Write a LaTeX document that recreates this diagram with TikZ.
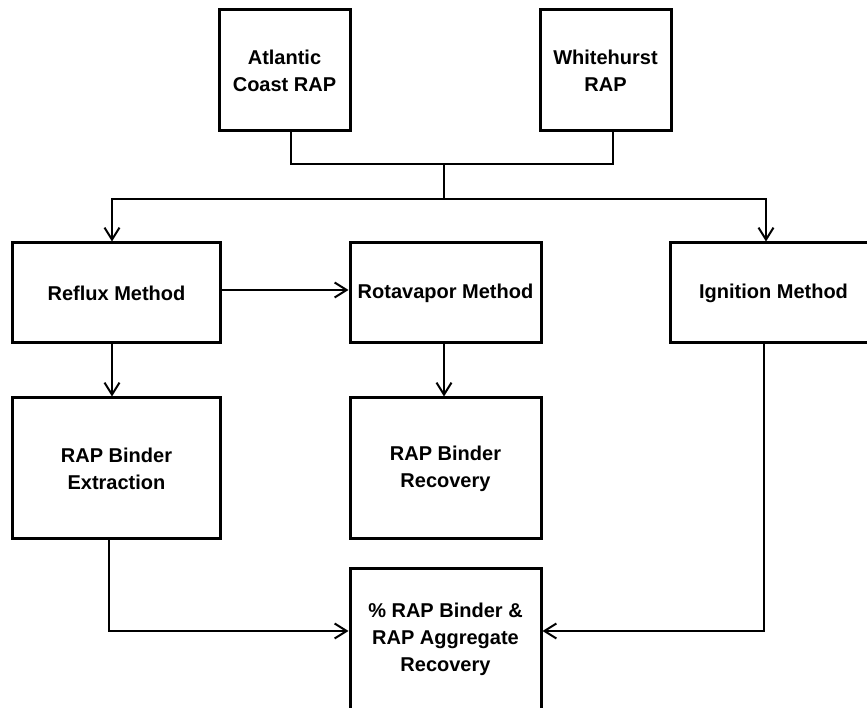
\documentclass[tikz,border=0pt]{standalone}
\usepackage{fontspec}
\setmainfont{Liberation Sans}
\usetikzlibrary{arrows.meta}
\tikzset{
  box/.style={draw, line width=3bp, align=center, inner sep=0pt,
    font=\bfseries\fontsize{20bp}{27bp}\selectfont},
  link/.style={line width=2bp},
  arr/.style={link, -{Straight Barb[length=12bp,width=15bp,line width=2bp]}}
}
\begin{document}
\begin{tikzpicture}[x=1bp,y=1bp]
\useasboundingbox (0,0) rectangle (867,708);
% sources
\node[box, minimum width=131bp, minimum height=121bp] (atl) at (284.5,637.5) {Atlantic\\Coast RAP};
\node[box, minimum width=131bp, minimum height=121bp] (white) at (605.5,637.5) {Whitehurst\\RAP};
% methods
\node[box, minimum width=207bp, minimum height=100bp] (reflux) at (116.5,415) {Reflux Method};
\node[box, minimum width=191bp, minimum height=100bp] (rota) at (445.5,415) {Rotavapor Method};
\node[box, minimum width=207bp, minimum height=100bp] (ign) at (773.5,415) {Ignition Method};
% results
\node[box, minimum width=207bp, minimum height=141bp] (extr) at (116.5,239.5) {RAP Binder\\Extraction};
\node[box, minimum width=191bp, minimum height=141bp] (recov) at (445.5,239.5) {RAP Binder\\Recovery};
\node[box, minimum width=191bp, minimum height=141bp] (pct) at (445.5,68.5) {\% RAP Binder \&\\RAP Aggregate\\Recovery};
\coordinate (merge) at (444,544);
\coordinate (split) at (444,509);
\draw[link] ([xshift=6.5bp]atl.south) |- (merge) -| ([xshift=7.5bp]white.south);
\draw[link] (merge) -- (split);
\draw[arr] (split) -| ([xshift=-4.5bp]reflux.north);
\draw[arr] (split) -| ([xshift=-7.5bp]ign.north);
\draw[arr] ([yshift=3bp]reflux.east) -- ([yshift=3bp]rota.west);
\draw[arr] ([xshift=-4.5bp]reflux.south) -- ([xshift=-4.5bp]extr.north);
\draw[arr] ([xshift=-1.5bp]rota.south) -- ([xshift=-1.5bp]recov.north);
\draw[arr] ([xshift=-7.5bp]extr.south) |- ([yshift=8.5bp]pct.west);
\draw[arr] ([xshift=-9.5bp]ign.south) |- ([yshift=8.5bp]pct.east);
\end{tikzpicture}
\end{document}
